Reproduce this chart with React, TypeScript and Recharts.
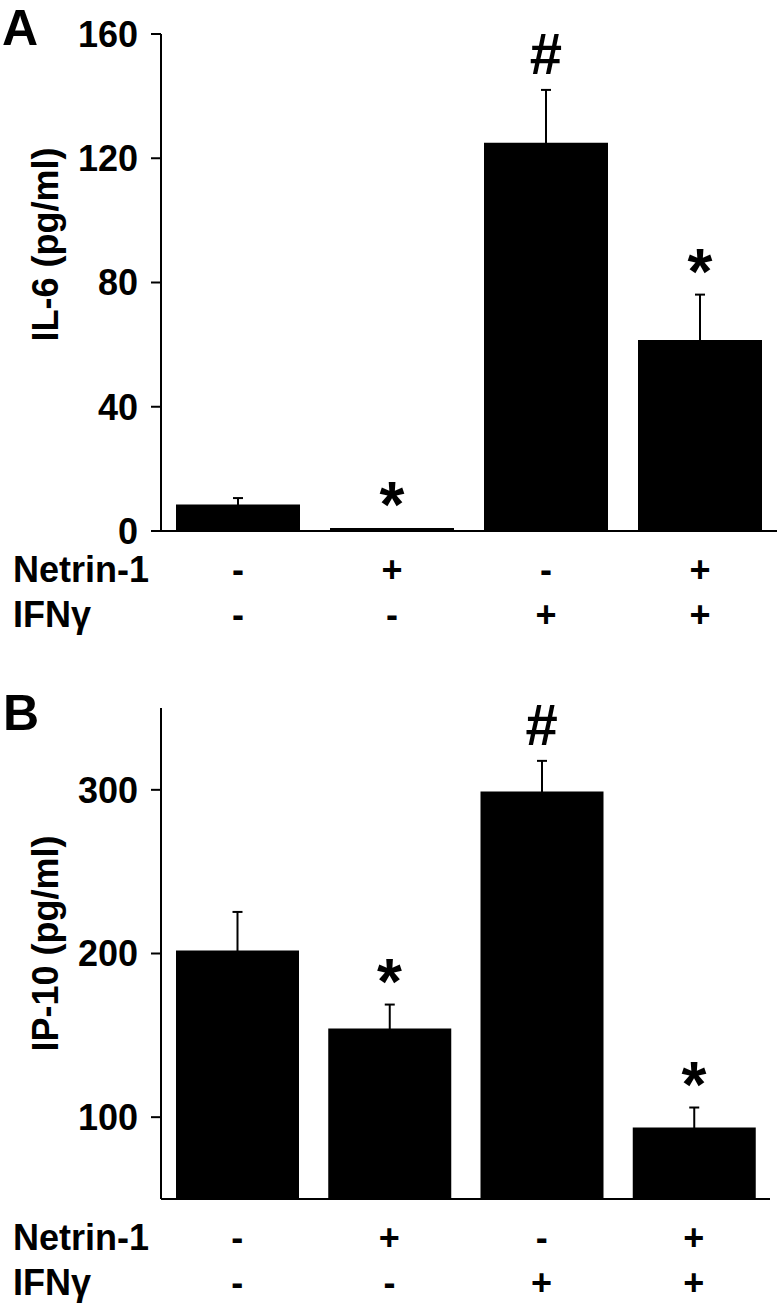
import { ComposedChart, Bar, Line, XAxis, YAxis, ErrorBar, LabelList, Label } from "recharts"

const netrinRow = ["-", "+", "-", "+"]
const ifnRow = ["-", "-", "+", "+"]

const il6Mean = [8.5, 1, 125, 61.5]
const il6Err = [2.1, 0, 17, 14.6]
const il6Marks = ["", "*", "#", "*"]
const il6Ticks = [0, 40, 80, 120, 160]

const ip10Mean = [201.8, 154.2, 299, 93.7]
const ip10Err = [23.6, 14.6, 18.7, 12.2]
const ip10Marks = ["", "*", "#", "*"]
const ip10Ticks = [100, 200, 300]

const font = "'Liberation Sans', Arial, sans-serif"

// mean +/- SEM; the lower half of the error bar is hidden inside the black bar
const build = (mean: number[], err: number[], marks: string[]) =>
  mean.map((m, i) => ({
    group: `g${i}`,
    mean: m,
    err: err[i],
    top: m + err[i],
    mark: marks[i],
  }))

const il6Data = build(il6Mean, il6Err, il6Marks)
const ip10Data = build(ip10Mean, ip10Err, ip10Marks)

const XTick = (props: any) => {
  const { x, y, payload } = props
  const i = payload.index
  const style = { fontFamily: font, fontWeight: "bold", fontSize: 36, fill: "#000" }
  return (
    <g>
      <text x={x} y={y + 51} textAnchor="middle" {...style}>{netrinRow[i]}</text>
      <text x={x} y={y + 96} textAnchor="middle" {...style}>{ifnRow[i]}</text>
      {i === 0 && (
        <>
          <text x={13} y={y + 51} textAnchor="start" {...style}>Netrin-1</text>
          <text x={13} y={y + 96} textAnchor="start" {...style}>IFNγ</text>
        </>
      )}
    </g>
  )
}

const MarkLabel = (props: any) => {
  const { value } = props
  if (!value) return null
  const vb = props.viewBox || props
  const cx = vb.x + (vb.width || 0) / 2
  const center = vb.y - 36
  const star = value === "*"
  return (
    <text
      x={cx}
      y={star ? center + 35 : center + 20}
      textAnchor="middle"
      fontFamily={font}
      fontWeight="bold"
      fontSize={star ? 64 : 58}
      fill="#000"
    >
      {value}
    </text>
  )
}

const yTitle = (text: string, shift: number) => (props: any) => {
  const vb = props.viewBox
  const cx = vb.x + 45
  const cy = vb.y + vb.height / 2 - shift
  return (
    <text
      x={cx}
      y={cy}
      transform={`rotate(-90 ${cx} ${cy})`}
      textAnchor="middle"
      dominantBaseline="central"
      fontFamily={font}
      fontWeight="bold"
      fontSize={36}
      fill="#000"
    >
      {text}
    </text>
  )
}

function Panel(props: {
  data: any[]
  height: number
  top: number
  right: number
  xHeight: number
  domain: [number, number]
  ticks: number[]
  title: string
  titleShift: number
  barSize: number
}) {
  return (
    <ComposedChart
      width={777}
      height={props.height}
      data={props.data}
      margin={{ top: props.top, right: props.right, bottom: 0, left: 0 }}
    >
      <XAxis
        dataKey="group"
        height={props.xHeight}
        tickLine={false}
        tickSize={0}
        tickMargin={0}
        axisLine={{ stroke: "#000", strokeWidth: 2 }}
        tick={<XTick />}
        interval={0}
      />
      <YAxis
        width={161}
        domain={props.domain}
        ticks={props.ticks}
        tickSize={10}
        tickMargin={13}
        tickLine={{ stroke: "#000", strokeWidth: 2 }}
        axisLine={{ stroke: "#000", strokeWidth: 2 }}
        tick={{ fontFamily: font, fontWeight: "bold", fontSize: 36, fill: "#000" }}
        allowDataOverflow
      >
        <Label content={yTitle(props.title, props.titleShift)} />
      </YAxis>
      <Bar dataKey="mean" fill="#000" barSize={props.barSize} isAnimationActive={false}>
        <ErrorBar dataKey="err" direction="y" width={5} stroke="#000" strokeWidth={2} />
      </Bar>
      <Line
        dataKey="top"
        stroke="none"
        dot={false}
        activeDot={false}
        isAnimationActive={false}
      >
        <LabelList dataKey="mark" content={<MarkLabel />} />
      </Line>
    </ComposedChart>
  )
}

export default function App() {
  return (
    <div style={{ position: "absolute", left: 0, top: 0, width: 777, height: 1308, background: "#fff" }}>
      <div style={{ position: "absolute", left: 0, top: 0 }}>
        <Panel
          data={il6Data}
          height={650}
          top={34}
          right={0}
          xHeight={119}
          domain={[0, 160]}
          ticks={il6Ticks}
          title="IL-6 (pg/ml)"
          titleShift={38}
          barSize={124}
        />
      </div>
      <div style={{ position: "absolute", left: 0, top: 650 }}>
        <Panel
          data={ip10Data}
          height={658}
          top={58}
          right={7}
          xHeight={109}
          domain={[50, 350]}
          ticks={ip10Ticks}
          title="IP-10 (pg/ml)"
          titleShift={10}
          barSize={123}
        />
      </div>
      <svg width={777} height={1308} style={{ position: "absolute", left: 0, top: 0, pointerEvents: "none" }}>
        <text x={2} y={45} fontFamily={font} fontWeight="bold" fontSize={50} fill="#000">A</text>
        <text x={3} y={730} fontFamily={font} fontWeight="bold" fontSize={50} fill="#000">B</text>
      </svg>
    </div>
  )
}
